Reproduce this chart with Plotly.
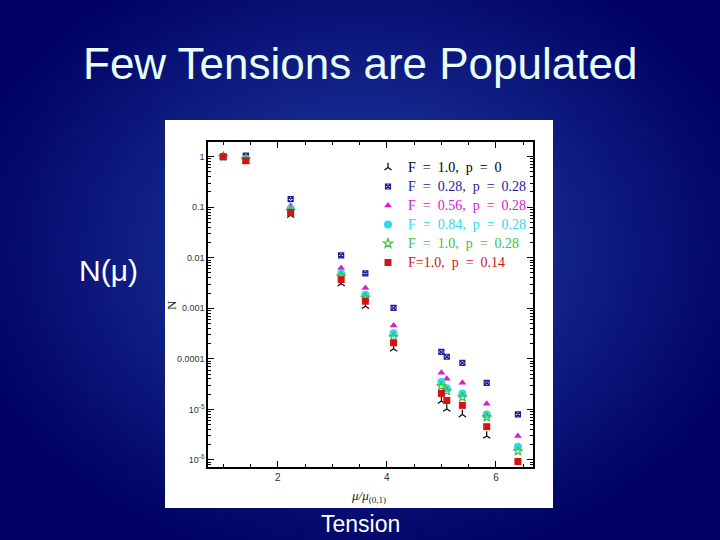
import zlib, struct, base64, math
import plotly.graph_objects as go

# ---------------- data ----------------
tension = [1.0, 1.414, 2.236, 3.162, 3.606, 4.123, 5.0, 5.099, 5.385, 5.831, 6.403]

n_f100_p000 = [1.0, 0.82, 0.0695, 0.00307, 0.0011, 1.58e-4, 1.46e-5, 1.02e-5, 7.9e-6, 2.98e-6, None]
n_f028_p028 = [None, 1.05, 0.144, 0.0111, 0.00491, 1.02e-3, 1.37e-4, 1.1e-4, 8.3e-5, 3.36e-5, 7.95e-6]
n_f056_p028 = [1.0, 0.92, 0.106, 0.00625, 0.00252, 4.55e-4, 5.3e-5, 4.03e-5, 3.36e-5, 1.29e-5, 2.98e-6]
n_f084_p028 = [1.0, 0.9, 0.091, 0.00483, 0.00186, 3.22e-4, 3.47e-5, 2.63e-5, 2.07e-5, 7.95e-6, 1.82e-6]
n_f100_p028 = [1.0, 0.88, 0.086, 0.0043, 0.00163, 2.7e-4, 2.9e-5, 2.3e-5, 1.75e-5, 7.0e-6, 1.5e-6]
n_f100_p014 = [1.0, 0.83, 0.0785, 0.00368, 0.00138, 2.07e-4, 2.07e-5, 1.5e-5, 1.2e-5, 4.55e-6, 9.3e-7]

series_labels = ["F  =  1.0,  p  =  0", "F  =  0.28,  p  =  0.28", "F  =  0.56,  p  =  0.28",
                 "F  =  0.84,  p  =  0.28", "F  =  1.0,  p  =  0.28", "F=1.0,  p  =  0.14"]

y_tickvals = [1, 0.1, 0.01, 0.001, 0.0001, 1e-5, 1e-6]
y_ticktext = ["1", "0.1", "0.01", "0.001", "0.0001", "10<sup>-5</sup>", "10<sup>-6</sup>"]
x_tickvals = [2, 4, 6]

# ---------------- background gradient image ----------------
def gradient_png(w, h):
    rows = []
    c_in = (35, 68, 172)
    c_out = (0, 0, 98)
    for j in range(h):
        row = bytearray([0])
        for i in range(w):
            dx = (i + 0.5) / w * 720 - 360
            dy = (j + 0.5) / h * 540 - 250
            d = min(1.0, math.sqrt((dx / 420) ** 2 + (dy / 330) ** 2))
            for k in range(3):
                row.append(int(c_in[k] * (1 - d) + c_out[k] * d))
        rows.append(bytes(row))
    raw = b"".join(rows)

    def chunk(tag, data):
        c = tag + data
        return struct.pack(">I", len(data)) + c + struct.pack(">I", zlib.crc32(c) & 0xFFFFFFFF)

    png = b"\x89PNG\r\n\x1a\n"
    png += chunk(b"IHDR", struct.pack(">IIBBBBB", w, h, 8, 2, 0, 0, 0))
    png += chunk(b"IDAT", zlib.compress(raw, 9))
    png += chunk(b"IEND", b"")
    return "data:image/png;base64," + base64.b64encode(png).decode()

bg = gradient_png(144, 108)

# ---------------- figure ----------------
W, H = 720, 540
fig = go.Figure()

styles = [
    (n_f100_p000, "#000000", "y-up-open", 6, True),
    (n_f028_p028, "#1c1c9c", "square-x-open", 5, True),
    (n_f056_p028, "#d020d0", "triangle-up", 7, False),
    (n_f084_p028, "#30d8e8", "circle", 8, False),
    (n_f100_p028, "#40c040", "star-open", 7, True),
    (n_f100_p014, "#d41414", "square", 7, False),
]

for (vals, col, sym, sz, openm), lab in zip(styles, series_labels):
    marker = dict(symbol=sym, size=sz, color=col)
    if openm:
        marker["line"] = dict(color=col, width=1.2)
    fig.add_trace(go.Scatter(
        x=tension, y=vals, mode="markers", marker=marker,
        name='<span style="color:%s;font-size:14px">%s</span>' % (col, lab.replace("  ", "\u00a0 ")),
    ))

def px(x):
    return x / W

def py(y):
    return 1 - y / H

fig.update_layout(
    width=W, height=H,
    margin=dict(l=0, r=0, t=0, b=0),
    paper_bgcolor="#000070",
    plot_bgcolor="white",
    showlegend=True,
    legend=dict(
        x=px(368), y=py(153), xanchor="left", yanchor="top",
        bgcolor="rgba(0,0,0,0)",
        font=dict(family="Liberation Serif", size=11, color="black"),
        itemwidth=30, tracegroupgap=0,
    ),
    images=[dict(source=bg, xref="paper", yref="paper", x=0, y=1, sizex=1, sizey=1,
                 xanchor="left", yanchor="top", sizing="stretch", layer="below")],
    shapes=[dict(type="rect", xref="paper", yref="paper",
                 x0=px(165), x1=px(553), y0=py(508), y1=py(120),
                 fillcolor="white", line=dict(width=0), layer="below")],
    xaxis=dict(
        domain=[px(208), px(533)], range=[0.72, 6.68],
        tickvals=x_tickvals, ticks="inside", ticklen=6, tickcolor="black",
        showline=True, linecolor="black", linewidth=1.5, mirror="ticks",
        showgrid=False, zeroline=False,
        tickfont=dict(family="Liberation Sans", size=10, color="#333"),
        minor=dict(dtick=0.5, ticks="inside", ticklen=3, tickcolor="black", showgrid=False),
    ),
    yaxis=dict(
        domain=[py(467), py(142)], type="log", range=[-6.14, 0.29],
        tickvals=y_tickvals, ticktext=y_ticktext,
        ticks="inside", ticklen=6, tickcolor="black",
        showline=True, linecolor="black", linewidth=1.5, mirror="ticks",
        showgrid=False, zeroline=False,
        tickfont=dict(family="Liberation Sans", size=9, color="#333"),
        minor=dict(ticks="inside", ticklen=3, tickcolor="black", showgrid=False, dtick="D1"),
    ),
    annotations=[
        dict(text="Few Tensions are Populated", xref="paper", yref="paper",
             x=0.5, y=py(64), xanchor="center", yanchor="middle", showarrow=False,
             font=dict(family="Liberation Sans", size=44, color="#e8ffff")),
        dict(text="N(μ)", xref="paper", yref="paper",
             x=px(108), y=py(270), xanchor="center", yanchor="middle", showarrow=False,
             font=dict(family="Liberation Sans", size=30, color="white")),
        dict(text="Tension", xref="paper", yref="paper",
             x=px(360), y=py(524), xanchor="center", yanchor="middle", showarrow=False,
             font=dict(family="Liberation Sans", size=23, color="white")),
        dict(text="<i>μ/μ</i><sub>(0,1)</sub>", xref="paper", yref="paper",
             x=px(368), y=py(496), xanchor="center", yanchor="middle", showarrow=False,
             font=dict(family="Liberation Serif", size=13, color="#222")),
        dict(text="N", xref="paper", yref="paper", textangle=-90,
             x=px(171), y=py(305), xanchor="center", yanchor="middle", showarrow=False,
             font=dict(family="Liberation Serif", size=13, color="#222")),
    ],
)

fig.write_html("out.html", config={"displayModeBar": False},
               post_script="document.body.style.margin='0';")
